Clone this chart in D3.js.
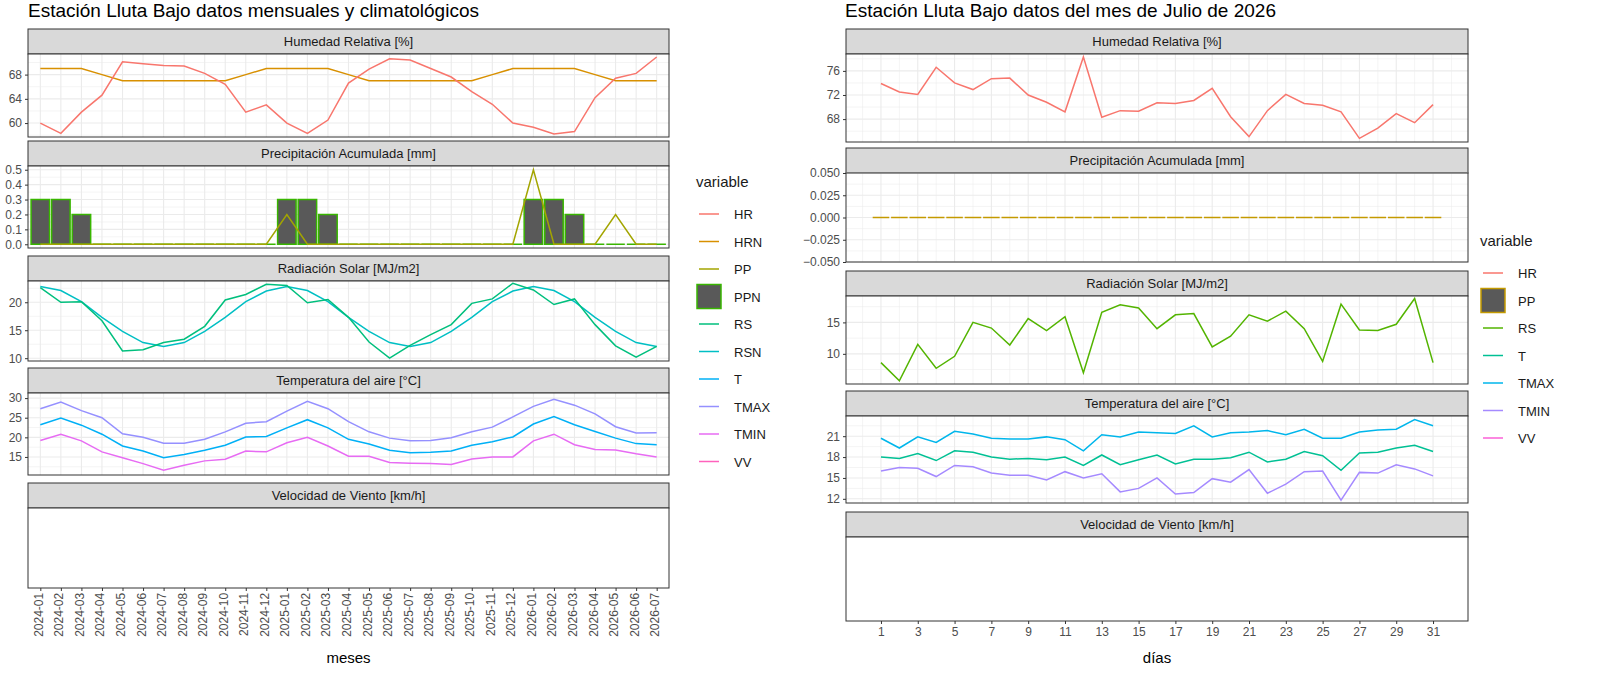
<!DOCTYPE html>
<html><head><meta charset="utf-8">
<script src="https://cdn.jsdelivr.net/npm/d3@7"></script>
<style>body{margin:0;background:#fff;font-family:"Liberation Sans",Arial,sans-serif}</style>
</head><body>
<svg id="svg" width="1600" height="676"></svg>
<script>
// ---- datos mensuales (izquierda)
const meses = d3.range(31).map(i => { const y = 2024 + Math.floor(i / 12), m = i % 12 + 1; return y + "-" + String(m).padStart(2, "0"); });
const HR  = [60.0,58.3,61.8,64.6,70.1,69.8,69.5,69.4,68.2,66.4,61.8,63.0,60.0,58.3,60.5,66.6,68.9,70.6,70.4,69.0,67.6,65.2,63.1,60.0,59.3,58.2,58.6,64.2,67.4,68.2,70.9];
const HRN_clim = [69,69,69,68,67,67,67,67,67,67,68,69];
const PP  = [0,0,0,0,0,0,0,0,0,0,0,0,0.2,0,0,0,0,0,0,0,0,0,0,0,0.5,0,0,0,0.2,0,0];
const PPN_clim = [0.3,0.3,0.2,0,0,0,0,0,0,0,0,0];
const RS  = [22.6,20.0,20.1,16.7,11.3,11.5,12.8,13.4,15.7,20.4,21.4,23.2,23.0,19.9,20.5,17.3,12.9,10.0,12.3,14.2,16.0,19.8,20.6,23.4,22.2,19.6,20.6,16.0,12.2,10.2,12.1];
const RSN_clim = [22.8,22.1,20.1,17.3,14.8,12.8,12.1,12.8,14.8,17.3,20.1,22.0];
const TMAX = [27.3,29.0,26.8,25.0,20.9,20.0,18.5,18.5,19.5,21.4,23.6,24.0,26.7,29.2,27.3,24.0,21.4,19.8,19.1,19.2,19.9,21.4,22.6,25.2,27.9,29.7,28.2,26.0,22.7,21.1,21.2];
const T    = [23.2,24.9,23.1,20.8,17.8,16.5,14.8,15.6,16.7,18.0,20.1,20.2,22.4,24.5,22.4,19.5,18.3,16.7,16.1,16.2,16.5,18.0,18.9,20.1,23.4,25.3,23.2,21.5,19.8,18.4,18.1];
const TMIN = [19.2,20.8,19.1,16.3,14.8,13.3,11.6,12.9,14.0,14.4,16.5,16.3,18.6,20.0,17.8,15.2,15.2,13.6,13.4,13.3,13.1,14.5,15.0,15.0,19.1,20.8,18.1,16.9,16.8,15.8,15.0];
const HRN = meses.map((_, i) => HRN_clim[i % 12]);
const PPN = meses.map((_, i) => PPN_clim[i % 12]);
const RSN = meses.map((_, i) => RSN_clim[i % 12]);

// ---- datos diarios (derecha)
const dias = d3.range(1, 32);
const dHR = [73.9,72.5,72.1,76.6,74.0,72.9,74.7,74.8,72.0,70.8,69.2,78.3,68.3,69.4,69.3,70.7,70.6,71.1,73.1,68.4,65.1,69.4,72.1,70.6,70.3,69.2,64.8,66.5,68.9,67.4,70.4];
const dPP = dias.map(() => 0);
const dRS = [8.6,5.7,11.5,7.7,9.6,15.0,14.1,11.4,15.6,13.7,15.9,7.0,16.6,17.8,17.3,14.0,16.2,16.4,11.1,12.8,16.2,15.2,16.8,14.0,8.8,17.9,13.8,13.7,14.7,18.8,8.6];
const dTMAX = [20.7,19.3,20.9,20.1,21.7,21.3,20.7,20.6,20.6,20.9,20.5,18.9,21.2,20.9,21.6,21.5,21.4,22.5,20.9,21.5,21.6,21.8,21.2,22.0,20.7,20.7,21.6,21.9,22.0,23.4,22.5];
const dT = [18.0,17.8,18.5,17.5,18.9,18.7,18.0,17.7,17.8,17.6,18.0,16.8,18.3,16.9,17.6,18.3,17.0,17.7,17.7,17.9,18.7,17.3,17.7,18.8,18.2,16.1,18.6,18.7,19.3,19.7,18.8];
const dTMIN = [16.0,16.5,16.4,15.2,16.8,16.6,15.7,15.4,15.4,14.7,15.9,15.0,15.6,13.0,13.5,15.0,12.7,12.9,14.9,14.4,16.2,12.8,14.1,15.9,16.0,11.8,15.8,15.7,16.9,16.3,15.3];

const colL = {HR:"#F8766D",HRN:"#D89000",PP:"#A3A500",PPN:"#39B600",RS:"#00BF7D",RSN:"#00BFC4",T:"#00B0F6",TMAX:"#9590FF",TMIN:"#E76BF3",VV:"#FF62BC"};
const colR = {HR:"#F8766D",PP:"#C49A00",RS:"#53B400",T:"#00C094",TMAX:"#00B6EB",TMIN:"#A58AFF",VV:"#FB61D7"};

const svg = d3.select("#svg");
const tickCol = "#4D4D4D";

function panel(cfg) {
  const {x, x0, x1, top, h, title, yDom, yTicks, yMinor, fmt, vgrid} = cfg;
  const g = svg.append("g");
  g.append("rect").attr("x", x0).attr("y", top).attr("width", x1 - x0).attr("height", 25)
    .attr("fill", "#D9D9D9").attr("stroke", "#333").attr("stroke-width", 1);
  g.append("text").attr("x", (x0 + x1) / 2).attr("y", top + 17).attr("text-anchor", "middle")
    .attr("font-size", 13).attr("fill", "#1A1A1A").text(title);
  const pt = top + 25;
  g.append("rect").attr("x", x0).attr("y", pt).attr("width", x1 - x0).attr("height", h).attr("fill", "#fff");
  const y = yDom ? d3.scaleLinear().domain(yDom).range([pt + h, pt]) : null;
  vgrid.forEach(v => g.append("line").attr("x1", x(v.v)).attr("x2", x(v.v)).attr("y1", pt).attr("y2", pt + h)
    .attr("stroke", "#EBEBEB").attr("stroke-width", v.major ? 1.1 : 0.55));
  if (y) {
    yMinor.forEach(v => g.append("line").attr("x1", x0).attr("x2", x1).attr("y1", y(v)).attr("y2", y(v))
      .attr("stroke", "#EBEBEB").attr("stroke-width", 0.55));
    yTicks.forEach(v => g.append("line").attr("x1", x0).attr("x2", x1).attr("y1", y(v)).attr("y2", y(v))
      .attr("stroke", "#EBEBEB").attr("stroke-width", 1.1));
    const ax = g.append("g").attr("transform", `translate(${x0},0)`)
      .call(d3.axisLeft(y).tickValues(yTicks).tickSize(3).tickFormat(fmt));
    ax.select(".domain").remove();
    ax.selectAll("line").attr("stroke", "#333");
    ax.selectAll("text").attr("font-size", 12).attr("fill", tickCol).attr("font-family", "Liberation Sans, Arial");
  }
  const series = g.append("g");
  g.append("rect").attr("x", x0).attr("y", pt).attr("width", x1 - x0).attr("height", h)
    .attr("fill", "none").attr("stroke", "#333").attr("stroke-width", 1);
  return {g: series, y, bottom: pt + h};
}

function line(p, xs, x, vals, col) {
  p.g.append("path").datum(vals).attr("fill", "none").attr("stroke", col).attr("stroke-width", 1.5)
    .attr("d", d3.line().x((d, i) => x(xs[i])).y(d => p.y(d)));
}
function bars(p, xs, x, vals, w, stroke) {
  // barras; las de valor cero quedan como un trazo horizontal del borde
  p.g.selectAll(null).data(vals).enter().append("path")
    .attr("d", (d, i) => {
      const path = d3.path();
      const xa = x(xs[i]) - w / 2, y0 = p.y(0), y1 = p.y(d);
      if (d === 0) { path.moveTo(xa, y0); path.lineTo(xa + w, y0); }
      else path.rect(xa, Math.min(y0, y1), w, Math.abs(y0 - y1));
      return path.toString();
    })
    .attr("fill", "#595959").attr("stroke", stroke).attr("stroke-width", 1.5);
}
function legend(x, y, items, cols, boxKey, boxStroke) {
  const g = svg.append("g");
  g.append("text").attr("x", x).attr("y", y).attr("font-size", 15).attr("fill", "#1A1A1A").text("variable");
  items.forEach((k, i) => {
    const cy = y + 27 + i * 27.5;
    if (k === boxKey) {
      g.append("rect").attr("x", x + 1).attr("y", cy - 12).attr("width", 24).attr("height", 24)
        .attr("fill", "#595959").attr("stroke", boxStroke).attr("stroke-width", 1.5);
    } else {
      g.append("line").attr("x1", x + 3).attr("x2", x + 23).attr("y1", cy).attr("y2", cy)
        .attr("stroke", cols[k]).attr("stroke-width", 1.5);
    }
    g.append("text").attr("x", x + 38).attr("y", cy + 5).attr("font-size", 13).attr("fill", "#1A1A1A").text(k);
  });
}
function title(x, t) {
  svg.append("text").attr("x", x).attr("y", 17).attr("font-size", 19).attr("fill", "#000").text(t);
}

// ---------------- izquierda
const L0 = 28, L1 = 669;
const xl = d3.scaleLinear().domain([-0.6, 30.6]).range([L0, L1]);
const mi = meses.map((_, i) => i);
const vgL = mi.map(v => ({v, major: true}));
title(28, "Estación Lluta Bajo datos mensuales y climatológicos");

let p = panel({x: xl, x0: L0, x1: L1, top: 29, h: 83, title: "Humedad Relativa [%]", yDom: [57.7, 71.4],
  yTicks: [60, 64, 68], yMinor: [58, 62, 66, 70], fmt: d3.format("d"), vgrid: vgL});
line(p, mi, xl, HRN, colL.HRN); line(p, mi, xl, HR, colL.HR);

p = panel({x: xl, x0: L0, x1: L1, top: 141, h: 82, title: "Precipitación Acumulada [mm]", yDom: [-0.025, 0.525],
  yTicks: [0, 0.1, 0.2, 0.3, 0.4, 0.5], yMinor: [0.05, 0.15, 0.25, 0.35, 0.45], fmt: d3.format(".1f"), vgrid: vgL});
bars(p, mi, xl, PPN, (xl(1) - xl(0)) * 0.9, colL.PPN); line(p, mi, xl, PP, colL.PP);

p = panel({x: xl, x0: L0, x1: L1, top: 256, h: 80, title: "Radiación Solar [MJ/m2]", yDom: [9.5, 23.8],
  yTicks: [10, 15, 20], yMinor: [12.5, 17.5, 22.5], fmt: d3.format("d"), vgrid: vgL});
line(p, mi, xl, RSN, colL.RSN); line(p, mi, xl, RS, colL.RS);

p = panel({x: xl, x0: L0, x1: L1, top: 368, h: 82, title: "Temperatura del aire [°C]", yDom: [10.4, 31.3],
  yTicks: [15, 20, 25, 30], yMinor: [12.5, 17.5, 22.5, 27.5], fmt: d3.format("d"), vgrid: vgL});
line(p, mi, xl, TMAX, colL.TMAX); line(p, mi, xl, T, colL.T); line(p, mi, xl, TMIN, colL.TMIN);

p = panel({x: xl, x0: L0, x1: L1, top: 483, h: 80, title: "Velocidad de Viento [km/h]", vgrid: []});
{
  const ax = svg.append("g").attr("transform", `translate(0,${p.bottom})`)
    .call(d3.axisBottom(xl).tickValues(mi).tickSize(3).tickFormat(i => meses[i]));
  ax.select(".domain").remove();
  ax.selectAll("line").attr("stroke", "#333");
  ax.selectAll("text").attr("font-size", 12).attr("fill", tickCol).attr("font-family", "Liberation Sans, Arial")
    .attr("transform", "rotate(-90)").attr("text-anchor", "end").attr("dx", "-0.4em").attr("dy", "-0.1em")
    .attr("x", 0).attr("y", 0).attr("dominant-baseline", "middle");
  svg.append("text").attr("x", (L0 + L1) / 2).attr("y", 663).attr("text-anchor", "middle").attr("font-size", 15).text("meses");
}
legend(696, 187, ["HR","HRN","PP","PPN","RS","RSN","T","TMAX","TMIN","VV"], colL, "PPN", colL.PPN);

// ---------------- derecha
const R0 = 846, R1 = 1468;
const xr = d3.scaleLinear().domain([-0.9, 32.9]).range([R0, R1]);
const vgR = d3.range(0, 33).map(v => ({v, major: v % 2 === 1}));
title(845, "Estación Lluta Bajo datos del mes de Julio de 2026");

p = panel({x: xr, x0: R0, x1: R1, top: 29, h: 88, title: "Humedad Relativa [%]", yDom: [64.2, 78.8],
  yTicks: [68, 72, 76], yMinor: [66, 70, 74, 78], fmt: d3.format("d"), vgrid: vgR});
line(p, dias, xr, dHR, colR.HR);

p = panel({x: xr, x0: R0, x1: R1, top: 148, h: 89, title: "Precipitación Acumulada [mm]", yDom: [-0.05, 0.05],
  yTicks: [-0.05, -0.025, 0, 0.025, 0.05], yMinor: [-0.0375, -0.0125, 0.0125, 0.0375], fmt: d3.format(".3f"), vgrid: vgR});
bars(p, dias, xr, dPP, (xr(1) - xr(0)) * 0.9, colR.PP);

p = panel({x: xr, x0: R0, x1: R1, top: 271, h: 88, title: "Radiación Solar [MJ/m2]", yDom: [5.2, 19.2],
  yTicks: [10, 15], yMinor: [7.5, 12.5, 17.5], fmt: d3.format("d"), vgrid: vgR});
line(p, dias, xr, dRS, colR.RS);

p = panel({x: xr, x0: R0, x1: R1, top: 391, h: 87, title: "Temperatura del aire [°C]", yDom: [11.4, 23.9],
  yTicks: [12, 15, 18, 21], yMinor: [13.5, 16.5, 19.5, 22.5], fmt: d3.format("d"), vgrid: vgR});
line(p, dias, xr, dTMAX, colR.TMAX); line(p, dias, xr, dT, colR.T); line(p, dias, xr, dTMIN, colR.TMIN);

p = panel({x: xr, x0: R0, x1: R1, top: 512, h: 84, title: "Velocidad de Viento [km/h]", vgrid: []});
{
  const ax = svg.append("g").attr("transform", `translate(0,${p.bottom})`)
    .call(d3.axisBottom(xr).tickValues(d3.range(1, 32, 2)).tickSize(3).tickFormat(d3.format("d")));
  ax.select(".domain").remove();
  ax.selectAll("line").attr("stroke", "#333");
  ax.selectAll("text").attr("font-size", 12).attr("fill", tickCol).attr("font-family", "Liberation Sans, Arial");
  svg.append("text").attr("x", (R0 + R1) / 2).attr("y", 663).attr("text-anchor", "middle").attr("font-size", 15).text("días");
}
legend(1480, 246, ["HR","PP","RS","T","TMAX","TMIN","VV"], colR, "PP", colR.PP);
</script>
</body></html>
